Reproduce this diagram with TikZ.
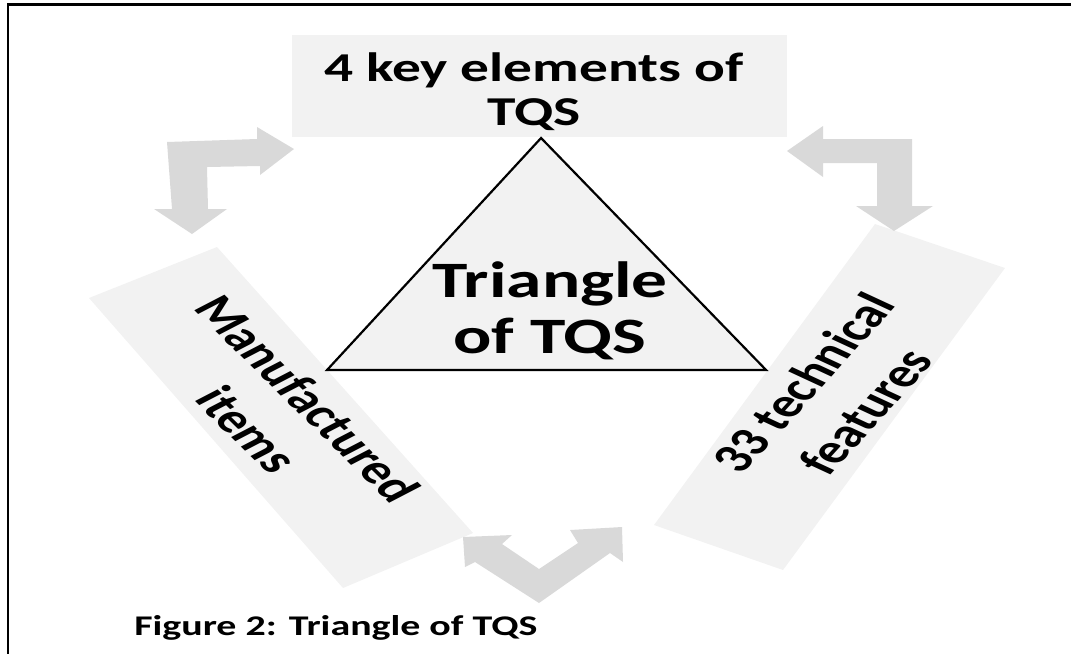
\documentclass[tikz,border=0pt]{standalone}
\usepackage{fontspec}
\setmainfont{Carlito}
\definecolor{boxgray}{HTML}{F2F2F2}
\definecolor{arrowgray}{HTML}{D9D9D9}
\begin{document}
\begin{tikzpicture}[x={(0.7142857pt,0pt)}, y={(0pt,-1pt)}, xscale=1.4,
  every node/.append style={transform shape},
  panel/.style={fill=boxgray, draw=none},
  blockarrow/.style={fill=arrowgray, draw=none},
  lbl/.style={font=\bfseries\fontsize{41}{44}\selectfont, align=center, inner sep=0pt, text=black},
  rotlbl/.style={font=\bfseries\fontsize{41}{53}\selectfont, align=center, inner sep=0pt, text=black},
  biglbl/.style={font=\bfseries\fontsize{51}{56}\selectfont, align=center, inner sep=0pt, text=black},
  caplbl/.style={font=\bfseries\fontsize{28.5}{32}\selectfont, inner sep=0pt, text=black}]
\useasboundingbox (0,0) rectangle (1071,653);
% frame
\begin{scope}
\clip (0,0) rectangle (1071,653);
\draw[line width=2.5pt] (8,660) -- (8,4.5) -- (1080,4.5);
\end{scope}
% top box
\fill[panel] (292,35) rectangle (787,137);
\node[lbl] (top) at (534,92) {4 key elements of\\TQS};
% side panels
\fill[panel] (89,298) -- (217,247) -- (473,533) -- (343,588) -- cycle;
\fill[panel] (654,525) -- (875,224) -- (1005,268) -- (783,570) -- cycle;
\node[rotlbl, rotate=-54] (left) at (278,414) {Manufactured\\items};
\node[rotlbl, rotate=57] (right) at (834,397) {33 technical\\features};
% triangle
\coordinate (apex) at (541,138);
\coordinate (bl) at (327,370);
\coordinate (br) at (766,370);
\filldraw[fill=boxgray, draw=black, line width=2.2pt, line join=miter] (apex) -- (bl) -- (br) -- cycle;
\node[biglbl] (tri) at (550,311) {Triangle\\of TQS};
% block arrows
\fill[blockarrow] (167,142) -- (257,139) -- (257,127) -- (294,149) -- (260,175) -- (260,166)
  -- (207,167) -- (208,209) -- (227,209) -- (192,234) -- (154,209) -- (172,209) -- cycle;
\fill[blockarrow] (912,139) -- (823,139) -- (823,126) -- (787,151) -- (823,177) -- (823,163)
  -- (877,163) -- (877,206) -- (856,206) -- (894,231) -- (933,206) -- (912,206) -- cycle;
\fill[blockarrow] (463,537) -- (512,535) -- (502,544) -- (539,569) -- (578,543) -- (570,530)
  -- (622,527) -- (623,562) -- (610,553) -- (539,603) -- (475,562) -- (465,567) -- cycle;
% caption
\node[caplbl, anchor=base west] (cap) at (134,635) {Figure 2: Triangle of TQS};
\end{tikzpicture}
\end{document}
